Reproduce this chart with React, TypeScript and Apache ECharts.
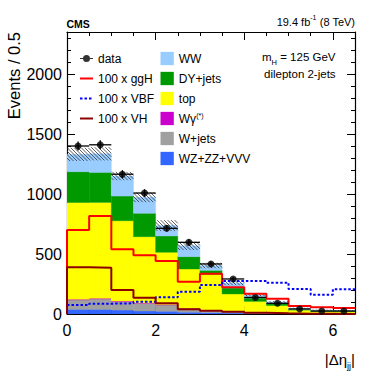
import React, { useEffect, useRef } from 'react';
import * as echarts from 'echarts';

// ---- data ----
const binEdges = [0, 0.5, 1, 1.5, 2, 2.5, 3, 3.5, 4, 4.5, 5, 5.5, 6, 6.5];
const dataCounts = [1400, 1410, 1165, 1008, 714, 597, 417, 292, 138, 89, 42, 25, 25];
const dataErrors = [37, 38, 34, 32, 27, 24, 20, 17, 12, 9, 6.5, 5, 5];
const wzZzVvv = [39, 39, 33, 25, 22, 15, 12, 8, 5, 3, 2, 1, 1];
const wJets = [78, 86, 70, 64, 53, 30, 18, 12, 7, 5, 3, 2, 2];
const wGamma = [6, 6, 5, 5, 4, 3, 2, 1, 1, 0.5, 0.3, 0.2, 0.2];
const topBkg = [806, 799, 669, 550, 435, 327, 298, 146, 92, 62, 27, 18, 16];
const dyJets = [257, 250, 206, 195, 136, 103, 34, 50, 28, 18, 6, 6, 5];
const ww = [144, 155, 167, 133, 87, 90, 40, 41, 25, 12, 10, 6, 5];
const bkgUncertainty = [55, 55, 35, 40, 45, 35, 23, 18, 10, 7, 4, 3, 3];
const ggH100 = [700, 817, 539, 489, 442, 269, 336, 222, 168, 127, 67, 56, 50];
const vbf100 = [75, 86, 89, 103, 139, 186, 242, 275, 275, 261, 208, 161, 206];
const vh100 = [390, 386, 200, 136, 89, 40, 28, 18, 10, 6, 3, 2, 1];

const xMajorTicks = [0, 2, 4, 6];
const xMinorTicks = [0.5, 1, 1.5, 2.5, 3, 3.5, 4.5, 5, 5.5];
const yMajorTicks = [0, 500, 1000, 1500, 2000];
const yMinorTicks = [100, 200, 300, 400, 600, 700, 800, 900, 1100, 1200, 1300, 1400, 1600, 1700, 1800, 1900, 2100, 2200, 2300];

const FONT = 'Liberation Sans, Arial, Helvetica, sans-serif';

const stackLayers = [
  { name: 'WZ+ZZ+VVV', values: wzZzVvv, color: '#3366ff' },
  { name: 'W+jets', values: wJets, color: '#a0a0a0' },
  { name: 'Wγ', values: wGamma, color: '#cc00cc' },
  { name: 'top', values: topBkg, color: '#ffff00' },
  { name: 'DY+jets', values: dyJets, color: '#009a00' },
  { name: 'WW', values: ww, color: '#99ccff' },
];

export default function App() {
  const ref = useRef<HTMLDivElement>(null);
  useEffect(() => {
    const chart = echarts.init(ref.current!, null, { renderer: 'svg' });
    const nBins = binEdges.length - 1;
    const base = new Array(nBins).fill(0);
    const stackSeries: any[] = stackLayers.map((layer) => {
      const data = layer.values.map((v, i) => {
        const b = base[i];
        base[i] = b + v;
        return [binEdges[i], binEdges[i + 1], b, b + v];
      });
      const color = layer.color;
      return {
        type: 'custom',
        name: layer.name,
        itemStyle: { color },
        encode: { x: [0, 1], y: [2, 3] },
        clip: true,
        data,
        renderItem: (params: any, api: any) => {
          const a = api.coord([api.value(0), api.value(3)]);
          const b = api.coord([api.value(1), api.value(2)]);
          return {
            type: 'rect',
            shape: { x: a[0], y: a[1], width: b[0] - a[0], height: b[1] - a[1] },
            style: { fill: color, stroke: color, lineWidth: 0.4 },
          };
        },
      };
    });
    const totals = base.slice();

    const hatchSeries = {
      type: 'custom',
      name: 'uncertainty',
      clip: true,
      encode: { x: [0, 1], y: [2, 3] },
      data: totals.map((t, i) => [binEdges[i], binEdges[i + 1], t - bkgUncertainty[i], t + bkgUncertainty[i]]),
      renderItem: (params: any, api: any) => {
        const a = api.coord([api.value(0), api.value(3)]);
        const b = api.coord([api.value(1), api.value(2)]);
        const left = a[0], right = b[0], top = a[1], bottom = b[1];
        const s = 3.5;
        const children: any[] = [];
        for (let c = Math.ceil((top - right) / s) * s; c <= bottom - left; c += s) {
          const xs = Math.max(left, top - c);
          const xe = Math.min(right, bottom - c);
          if (xe > xs) {
            children.push({
              type: 'line',
              shape: { x1: xs, y1: xs + c, x2: xe, y2: xe + c },
              style: { stroke: '#333', lineWidth: 0.8 },
            });
          }
        }
        return { type: 'group', children };
      },
    };

    const stepPoints = (vals: number[]) => [
      [binEdges[0], 0],
      ...vals.map((v, i) => [binEdges[i], v]),
      [binEdges[nBins], vals[nBins - 1]],
    ];
    const lineSeries = (name: string, vals: number[], color: string, type: any) => ({
      type: 'line',
      name,
      step: 'end',
      symbol: 'none',
      clip: true,
      data: stepPoints(vals),
      itemStyle: { color },
      lineStyle: { color, width: 2, type },
      z: 3,
    });

    const centers = dataCounts.map((_, i) => (binEdges[i] + binEdges[i + 1]) / 2);
    const errorSeries = {
      type: 'custom',
      name: 'dataErr',
      z: 4,
      encode: { x: [0, 1], y: [2, 3] },
      data: dataCounts.map((v, i) => [binEdges[i], binEdges[i + 1], v - dataErrors[i], v + dataErrors[i], v]),
      renderItem: (params: any, api: any) => {
        const x0 = api.value(0), x1 = api.value(1);
        const xc = (x0 + x1) / 2;
        const pL = api.coord([x0, api.value(4)]);
        const pR = api.coord([x1, api.value(4)]);
        const pLo = api.coord([xc, api.value(2)]);
        const pHi = api.coord([xc, api.value(3)]);
        const st = { stroke: '#000', lineWidth: 1.3 };
        return {
          type: 'group',
          children: [
            { type: 'line', shape: { x1: pL[0], y1: pL[1], x2: pR[0], y2: pR[1] }, style: st },
            { type: 'line', shape: { x1: pLo[0], y1: pLo[1], x2: pHi[0], y2: pHi[1] }, style: st },
          ],
        };
      },
    };
    const dataSeries = {
      type: 'scatter',
      name: 'data',
      z: 5,
      symbol: 'circle',
      symbolSize: 7,
      itemStyle: { color: '#000' },
      data: dataCounts.map((v, i) => [centers[i], v]),
    };

    const xAx = (position: string, ticks: number[], len: number, label: boolean, line: boolean) => ({
      type: 'value',
      position,
      min: 0,
      max: 6.5,
      axisLine: { show: line, onZero: false, lineStyle: { color: '#000', width: 1.2 } },
      axisTick: { show: true, inside: true, length: len, customValues: ticks, lineStyle: { color: '#000', width: 1 } },
      axisLabel: label
        ? { show: true, customValues: ticks, fontSize: 16, color: '#000', margin: 8, fontFamily: FONT, formatter: (v: number) => String(v) }
        : { show: false },
      splitLine: { show: false },
    });
    const yAx = (position: string, ticks: number[], len: number, label: boolean, line: boolean) => ({
      type: 'value',
      position,
      min: 0,
      max: 2350,
      axisLine: { show: line, onZero: false, lineStyle: { color: '#000', width: 1.2 } },
      axisTick: { show: true, inside: true, length: len, customValues: ticks, lineStyle: { color: '#000', width: 1 } },
      axisLabel: label
        ? { show: true, customValues: ticks, fontSize: 16, color: '#000', margin: 5, fontFamily: FONT, formatter: (v: number) => String(v) }
        : { show: false },
      splitLine: { show: false },
    });

    const dataIcon = 'path://M0,3H13V4H0Z M10,3.5A3.5,3.5,0,1,1,3,3.5A3.5,3.5,0,1,1,10,3.5Z';
    const noSymbol = { opacity: 0, borderWidth: 0 };

    const option: any = {
      animation: false,
      backgroundColor: '#fff',
      textStyle: { fontFamily: FONT },
      grid: { left: 67, right: 19, top: 32, bottom: 78 },
      xAxis: [
        xAx('bottom', xMajorTicks, 8, true, true),
        xAx('bottom', xMinorTicks, 4, false, false),
        xAx('top', xMajorTicks, 8, false, true),
        xAx('top', xMinorTicks, 4, false, false),
      ],
      yAxis: [
        yAx('left', yMajorTicks, 8, true, true),
        yAx('left', yMinorTicks, 4, false, false),
        yAx('right', yMajorTicks, 8, false, true),
        yAx('right', yMinorTicks, 4, false, false),
      ],
      legend: [
        {
          left: 74,
          top: 46.5,
          orient: 'vertical',
          selectedMode: false,
          itemWidth: 13,
          itemHeight: 7,
          itemGap: 6,
          textStyle: { fontSize: 12, lineHeight: 14, color: '#000', fontFamily: FONT },
          data: [
            { name: 'data', icon: dataIcon },
            { name: '100 x ggH', itemStyle: noSymbol },
            { name: '100 x VBF', itemStyle: noSymbol },
            { name: '100 x VH', itemStyle: noSymbol },
          ],
        },
        {
          left: 155.5,
          top: 46.5,
          orient: 'vertical',
          selectedMode: false,
          itemWidth: 13.3,
          itemHeight: 13.3,
          itemGap: 6,
          formatter: (name: string) => (name === 'Wγ' ? 'Wγ{s|(*)}' : name),
          textStyle: {
            fontSize: 12,
            lineHeight: 14,
            color: '#000',
            fontFamily: FONT,
            rich: { s: { fontSize: 7, lineHeight: 7, verticalAlign: 'top', color: '#000', fontFamily: FONT } },
          },
          data: ['WW', 'DY+jets', 'top', 'Wγ', 'W+jets', 'WZ+ZZ+VVV'].map((n) => ({ name: n, icon: 'rect' })),
        },
      ],
      graphic: [
        {
          type: 'text',
          x: 66.5,
          y: 24,
          style: { text: 'CMS', fontSize: 10.5, fontWeight: 'bold', fill: '#000', fontFamily: FONT, align: 'left', verticalAlign: 'middle' },
        },
        {
          type: 'text',
          x: 355,
          y: 22,
          style: {
            text: '19.4 fb{sup|-1} (8 TeV)',
            fontSize: 11,
            lineHeight: 16,
            fill: '#000',
            fontFamily: FONT,
            align: 'right',
            verticalAlign: 'middle',
            rich: { sup: { fontSize: 7, lineHeight: 7, verticalAlign: 'top', fill: '#000', fontFamily: FONT } },
          },
        },
        {
          type: 'text',
          x: 262,
          y: 57,
          style: {
            text: 'm{sub|H} = 125 GeV',
            fontSize: 11.5,
            lineHeight: 18,
            fill: '#000',
            fontFamily: FONT,
            align: 'left',
            verticalAlign: 'middle',
            rich: { sub: { fontSize: 7.5, lineHeight: 7.5, verticalAlign: 'bottom', fill: '#000', fontFamily: FONT } },
          },
        },
        {
          type: 'text',
          x: 264,
          y: 73.5,
          style: { text: 'dilepton 2-jets', fontSize: 11.5, fill: '#000', fontFamily: FONT, align: 'left', verticalAlign: 'middle' },
        },
        {
          type: 'text',
          x: 14,
          y: 32,
          rotation: Math.PI / 2,
          style: { text: 'Events / 0.5', fontSize: 16.5, fill: '#000', fontFamily: FONT, align: 'right', verticalAlign: 'middle' },
        },
        {
          type: 'text',
          x: 355,
          y: 359,
          style: {
            text: '|Δη{sub|jj}|',
            fontSize: 15,
            lineHeight: 22,
            fill: '#000',
            fontFamily: FONT,
            align: 'right',
            verticalAlign: 'middle',
            rich: { sub: { fontSize: 9, lineHeight: 9, verticalAlign: 'bottom', fill: '#000', fontFamily: FONT } },
          },
        },
      ],
      series: [
        ...stackSeries,
        hatchSeries,
        lineSeries('100 x ggH', ggH100, '#ff0000', 'solid'),
        lineSeries('100 x VBF', vbf100, '#0000ff', [2.5, 2]),
        lineSeries('100 x VH', vh100, '#8b0000', 'solid'),
        errorSeries,
        dataSeries,
      ],
    };
    chart.setOption(option);
    return () => chart.dispose();
  }, []);
  return <div ref={ref} style={{ position: 'fixed', left: 0, top: 0, width: 374, height: 392 }} />;
}
